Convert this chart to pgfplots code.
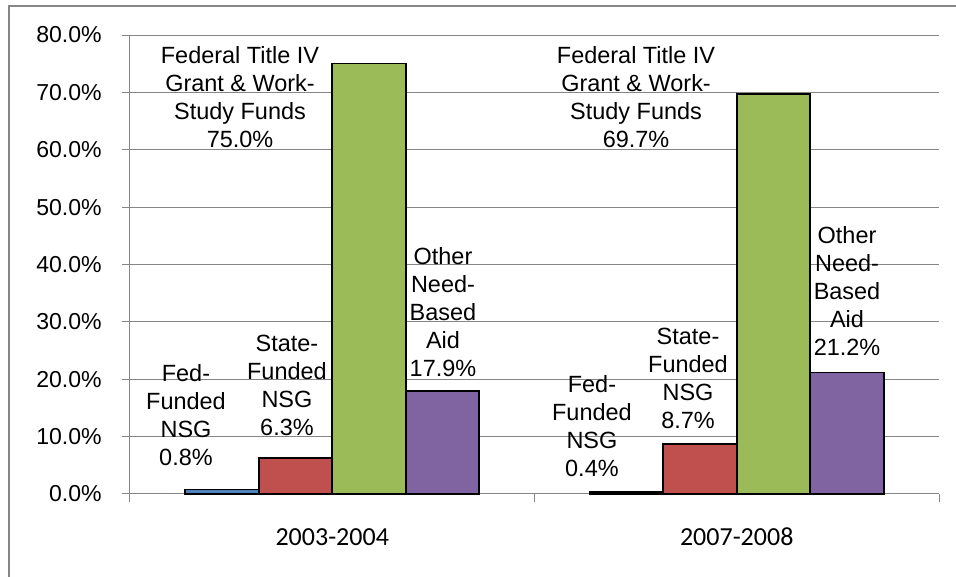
\documentclass[border=0pt]{standalone}
\usepackage{fontspec}
\setmainfont{Liberation Sans}
\newfontfamily\calibri{Carlito}
\usepackage{pgfplots}
\pgfplotsset{compat=1.18}
\definecolor{gridgray}{RGB}{134,134,134}
\definecolor{barblue}{RGB}{79,129,189}
\definecolor{barred}{RGB}{192,80,77}
\definecolor{bargreen}{RGB}{155,187,89}
\definecolor{barpurple}{RGB}{128,100,162}
\tikzset{lbl/.style={align=center, font=\fontsize{17.6}{21}\selectfont, inner sep=0pt}}
\begin{document}
\begin{tikzpicture}
\useasboundingbox (-97.5pt,-62.25pt) rectangle (619.5pt,370.5pt);
\begin{axis}[
  at={(0pt,0pt)}, anchor=south west,
  width=606.75pt, height=344.25pt, scale only axis,
  xmin=-0.5, xmax=1.5, ymin=0, ymax=80,
  ytick={0,10,...,80},
  ymajorgrids,
  grid style={gridgray, line width=0.75pt},
  axis x line*=bottom, axis y line*=left,
  axis line style={gridgray, line width=0.75pt},
  tick align=outside, major tick length=6pt,
  tick style={gridgray, line width=0.75pt},
  xtick={-0.5,0.5,1.5}, xticklabels={},
  extra x ticks={0,1},
  extra x tick labels={2003-2004,2007-2008},
  extra x tick style={major tick length=0pt,
    xticklabel style={font=\calibri\fontsize{19.5}{22}\selectfont, anchor=base, yshift=-39pt}},
  yticklabel={\pgfmathprintnumber[assume math mode=true,fixed,fixed zerofill,precision=1]{\tick}\%},
  yticklabel style={font=\fontsize{17.3}{20}\selectfont, anchor=east, inner sep=0pt, xshift=-15pt},
  ybar=0pt, bar width=55.125pt,
  clip=false,
]
\addplot[fill=barblue, draw=black, line width=1.2pt] coordinates {(0,0.8) (1,0.4)};
\addplot[fill=barred, draw=black, line width=1.2pt] coordinates {(0,6.3) (1,8.7)};
\addplot[fill=bargreen, draw=black, line width=1.2pt] coordinates {(0,75.0) (1,69.7)};
\addplot[fill=barpurple, draw=black, line width=1.2pt] coordinates {(0,17.9) (1,21.2)};

\node[lbl] at (axis cs:-0.3616,13.77) {Fed-\\Funded\\NSG\\0.8\%};
\node[lbl] at (axis cs:-0.112,18.9) {State-\\Funded\\NSG\\6.3\%};
\node[lbl] at (axis cs:-0.228,69.19) {Federal Title IV\\Grant \& Work-\\Study Funds\\75.0\%};
\node[lbl] at (axis cs:0.2738,31.72) {Other\\Need-\\Based\\Aid\\17.9\%};

\node[lbl] at (axis cs:0.642,11.85) {Fed-\\Funded\\NSG\\0.4\%};
\node[lbl] at (axis cs:0.8795,20.22) {State-\\Funded\\NSG\\8.7\%};
\node[lbl] at (axis cs:0.751,69.19) {Federal Title IV\\Grant \& Work-\\Study Funds\\69.7\%};
\node[lbl] at (axis cs:1.2726,35.38) {Other\\Need-\\Based\\Aid\\21.2\%};
\end{axis}
\draw[gridgray, line width=1.5pt] (-90.75pt,-62.25pt) -- (-90.75pt,366pt) -- (619.5pt,366pt);
\end{tikzpicture}
\end{document}
